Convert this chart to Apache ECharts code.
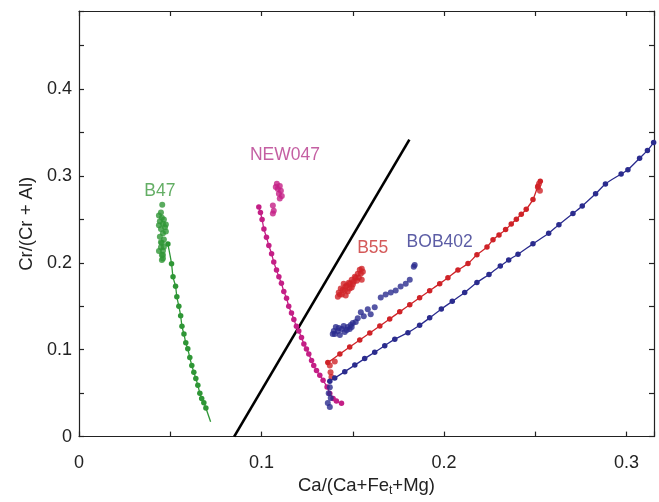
<!DOCTYPE html>
<html>
<head>
<meta charset="utf-8">
<script src="https://cdn.jsdelivr.net/npm/echarts@6/dist/echarts.min.js"></script>
<style>
  html, body { margin: 0; padding: 0; background: #fff; }
  #chart { width: 659px; height: 502px; }
</style>
</head>
<body>
<div id="chart"></div>
<script>
// 坐标轴
const xMax = 0.315
const yMax = 0.49
const tickStep = 0.05

// 分界线
const divider = [[0.085, 0], [0.181, 0.342]]

// B47 (绿色)
const b47Cluster = [[0.0456, 0.267], [0.0449, 0.258], [0.0454, 0.252], [0.0443, 0.248], [0.0460, 0.245], [0.0471, 0.241], [0.0449, 0.239], [0.0460, 0.234], [0.0476, 0.236], [0.0443, 0.230], [0.0465, 0.227], [0.0454, 0.223], [0.0449, 0.218], [0.0460, 0.214], [0.0454, 0.209], [0.0460, 0.205], [0.0438, 0.2545], [0.0465, 0.250], [0.0476, 0.2443], [0.0438, 0.2432], [0.0449, 0.2239], [0.0465, 0.2182], [0.0438, 0.2136], [0.0460, 0.2091], [0.0454, 0.2034]]
const b47Trend = [[0.0487, 0.2216], [0.0507, 0.199], [0.0515, 0.184], [0.0529, 0.173], [0.0536, 0.161], [0.0547, 0.150], [0.0557, 0.139], [0.0564, 0.127], [0.0575, 0.118], [0.0585, 0.108], [0.0596, 0.101], [0.0607, 0.091], [0.0618, 0.082], [0.0629, 0.074], [0.0640, 0.067], [0.0651, 0.059], [0.0662, 0.050], [0.0672, 0.044], [0.0684, 0.039], [0.0695, 0.033]]
const b47Tail = [0.0721, 0.017]

// NEW047 (品红)
const newCluster = [[0.1084, 0.291], [0.1100, 0.2886], [0.1089, 0.285], [0.1106, 0.283], [0.1095, 0.2795], [0.1111, 0.277], [0.1100, 0.274], [0.1078, 0.2875], [0.1062, 0.266], [0.1067, 0.260], [0.1062, 0.257]]
const newTrend = [[0.0985, 0.2644], [0.0994, 0.258], [0.1003, 0.250], [0.1013, 0.239], [0.1027, 0.2295], [0.1040, 0.220], [0.1055, 0.2106], [0.1067, 0.201], [0.1082, 0.1917], [0.1095, 0.184], [0.1109, 0.1765], [0.1122, 0.167], [0.1137, 0.1594], [0.1149, 0.150], [0.1164, 0.1424], [0.1177, 0.1349], [0.1191, 0.127], [0.1204, 0.1216], [0.1219, 0.1140], [0.1232, 0.1065], [0.1246, 0.1008], [0.1259, 0.0951], [0.1274, 0.0875], [0.1286, 0.0818], [0.1301, 0.0761], [0.1319, 0.0705], [0.1337, 0.0648], [0.1359, 0.0572], [0.1374, 0.0497], [0.1392, 0.044], [0.1410, 0.0409], [0.1438, 0.0383]]

// B55 (红色)
const b55Cluster = [[0.1429, 0.1636], [0.1445, 0.169], [0.1461, 0.1727], [0.1478, 0.177], [0.1494, 0.1807], [0.1511, 0.184], [0.1527, 0.1875], [0.1538, 0.192], [0.1450, 0.176], [0.1472, 0.167], [0.1500, 0.175], [0.1522, 0.1795], [0.1418, 0.161], [0.1483, 0.1705], [0.1549, 0.1807], [0.1423, 0.1659], [0.1440, 0.1636], [0.1434, 0.1705], [0.1456, 0.1682], [0.1467, 0.1739], [0.1483, 0.1761], [0.1494, 0.1716], [0.1505, 0.1784], [0.1516, 0.1830], [0.1533, 0.1830], [0.1544, 0.1875], [0.1555, 0.1898], [0.1549, 0.1932], [0.1461, 0.1625], [0.1374, 0.0818], [0.1378, 0.0742], [0.1383, 0.0685], [0.1401, 0.0864], [0.2514, 0.2870], [0.2525, 0.2830], [0.2520, 0.2910]]
const b55Trend = [[0.1363, 0.0852], [0.1429, 0.0950], [0.1483, 0.1031], [0.1538, 0.1113], [0.1593, 0.1193], [0.1648, 0.1274], [0.1702, 0.1355], [0.1757, 0.1436], [0.1812, 0.1518], [0.1866, 0.1599], [0.1921, 0.1680], [0.1976, 0.1761], [0.2021, 0.1830], [0.2076, 0.1917], [0.2131, 0.1992], [0.2180, 0.2094], [0.2235, 0.2182], [0.2268, 0.2265], [0.2301, 0.2322], [0.2337, 0.2383], [0.2368, 0.2447], [0.2396, 0.2503], [0.2423, 0.2560], [0.2450, 0.2617], [0.2487, 0.2731], [0.2514, 0.2883], [0.2527, 0.294]]

// BOB402 (蓝色)
const bobCluster = [[0.1401, 0.1182], [0.1418, 0.1216], [0.1440, 0.1239], [0.1456, 0.1205], [0.1472, 0.1261], [0.1489, 0.1284], [0.1429, 0.1170], [0.1450, 0.1273], [0.1500, 0.1307], [0.1527, 0.1364], [0.1544, 0.1432], [0.1560, 0.1386], [0.1582, 0.1466], [0.1598, 0.1409], [0.1620, 0.1489], [0.1653, 0.1602], [0.1680, 0.1636], [0.1708, 0.1659], [0.1735, 0.1682], [0.1762, 0.1727], [0.1790, 0.1761], [0.1812, 0.1807], [0.1834, 0.1955], [0.1839, 0.1977], [0.1396, 0.1216], [0.1407, 0.1261], [0.1423, 0.1250], [0.1467, 0.1227], [0.1483, 0.1239], [0.1494, 0.1261], [0.1516, 0.1318], [0.1390, 0.1182], [0.1374, 0.0568], [0.1368, 0.0500], [0.1379, 0.0443], [0.1363, 0.0386], [0.1374, 0.0341]]
const bobTrend = [[0.1374, 0.0636], [0.1401, 0.0674], [0.1456, 0.0748], [0.1511, 0.0823], [0.1565, 0.0898], [0.1620, 0.0972], [0.1675, 0.1047], [0.1730, 0.1122], [0.1802, 0.1197], [0.1866, 0.1281], [0.1921, 0.1367], [0.1985, 0.1469], [0.2045, 0.1557], [0.2113, 0.1659], [0.2180, 0.1773], [0.2246, 0.1867], [0.2308, 0.1963], [0.2354, 0.2034], [0.2405, 0.2099], [0.2487, 0.2219], [0.2573, 0.2341], [0.2629, 0.2440], [0.2706, 0.2568], [0.2757, 0.2656], [0.2830, 0.2795], [0.2884, 0.2909], [0.2970, 0.3023], [0.3007, 0.3072], [0.3071, 0.3205], [0.3114, 0.3295], [0.3148, 0.3385]]

// 样品名
const sampleNames = ['B47', 'NEW047', 'B55', 'BOB402']
const sampleLabelPos = [[0.0443, 0.283], [0.1128, 0.324], [0.1609, 0.217], [0.1976, 0.224]]
const sampleColors = ['#2f9636', '#c41f86', '#cf2328', '#2b2c8e']
const labelColors = ['#3d9a3f', '#b5378b', '#c9302f', '#33358f']

const font = 'Liberation Sans, Arial, Helvetica, sans-serif'

let myChart = echarts.init(document.getElementById('chart'))

const tickLabel = (v) => {
  if (Math.abs(v * 10 - Math.round(v * 10)) < 1e-6) {
    return String(+v.toFixed(1))
  }
  return ''
}

const axisBase = {
  type: 'value',
  min: 0,
  interval: tickStep,
  splitLine: { show: false },
  axisLine: { show: true, onZero: false, lineStyle: { color: '#222', width: 1.2 } },
  axisTick: { show: true, inside: true, length: 5, lineStyle: { color: '#222', width: 1.2 } },
}

const dotSeries = (data, color) => ({
  type: 'scatter',
  data: data,
  symbolSize: 6,
  itemStyle: { color: color },
  z: 3,
  silent: true
})

const trendSeries = (data, color) => ({
  type: 'line',
  data: data,
  symbol: 'circle',
  symbolSize: 5.5,
  showAllSymbol: true,
  smooth: 0.3,
  lineStyle: { color: color, width: 1.3 },
  itemStyle: { color: color },
  z: 3,
  silent: true
})

let option = {
  backgroundColor: '#fff',
  animation: false,
  grid: { left: 79, right: 5, top: 11, bottom: 60 },
  xAxis: [
    Object.assign({}, axisBase, {
      position: 'bottom',
      max: xMax,
      name: 'Ca/(Ca+Fe{sub|t}+Mg)',
      nameLocation: 'middle',
      nameGap: 35,
      nameTextStyle: {
        color: '#222', fontSize: 18.5, fontFamily: font,
        rich: { sub: { fontSize: 12, fontFamily: font, color: '#222', verticalAlign: 'bottom', padding: [10, 0, 0, 0] } }
      },
      axisLabel: { color: '#222', fontSize: 18, fontFamily: font, margin: 17, formatter: tickLabel }
    }),
    Object.assign({}, axisBase, {
      position: 'top',
      max: xMax,
      axisLabel: { show: false }
    })
  ],
  yAxis: [
    Object.assign({}, axisBase, {
      position: 'left',
      max: yMax,
      name: 'Cr/(Cr + Al)',
      nameLocation: 'middle',
      nameGap: 37,
      nameTextStyle: { color: '#222', fontSize: 18.5, fontFamily: font },
      axisLabel: { color: '#222', fontSize: 18, fontFamily: font, margin: 7, formatter: tickLabel }
    }),
    Object.assign({}, axisBase, {
      position: 'right',
      max: yMax,
      axisLabel: { show: false }
    })
  ],
  series: [
    {
      type: 'line',
      data: divider,
      symbol: 'none',
      lineStyle: { color: '#000', width: 2.6 },
      z: 2,
      silent: true
    },
    trendSeries(b47Trend, sampleColors[0]),
    {
      type: 'line',
      data: [b47Trend[b47Trend.length - 1], b47Tail],
      symbol: 'none',
      lineStyle: { color: sampleColors[0], width: 1.3 },
      silent: true
    },
    dotSeries(b47Cluster, sampleColors[0]),
    trendSeries(newTrend, sampleColors[1]),
    dotSeries(newCluster, sampleColors[1]),
    trendSeries(b55Trend, sampleColors[2]),
    dotSeries(b55Cluster, sampleColors[2]),
    trendSeries(bobTrend, sampleColors[3]),
    dotSeries(bobCluster, sampleColors[3]),
    {
      type: 'scatter',
      symbolSize: 0,
      silent: true,
      data: sampleNames.map((name, i) => ({
        value: sampleLabelPos[i],
        label: {
          show: true,
          position: 'inside',
          formatter: name,
          color: labelColors[i],
          fontSize: 17.5,
          fontFamily: font
        }
      }))
    }
  ]
}

myChart.setOption(option)
</script>
</body>
</html>
